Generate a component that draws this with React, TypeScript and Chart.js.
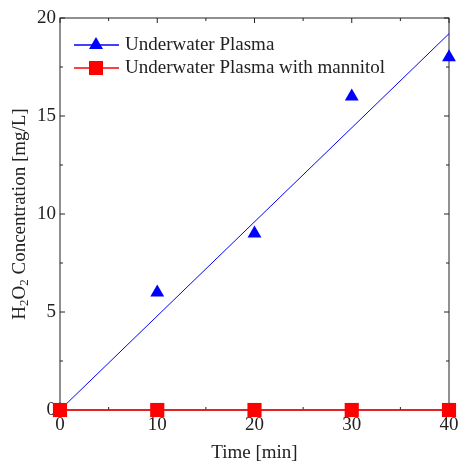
import React, { useEffect, useRef } from "react";
import { Chart, registerables } from "chart.js";
Chart.register(...registerables);

const times = [0, 10, 20, 30, 40];
const plasma = [0, 6, 9, 16, 18];
const mannitol = [0, 0, 0, 0, 0];
const fitX = [0, 40];
const fitY = [0, 19.2];
const xTicks = [0, 10, 20, 30, 40];
const yTicks = [0, 5, 10, 15, 20];
const xMinor = [5, 15, 25, 35];
const yMinor = [2.5, 7.5, 12.5, 17.5];
const legendLabels = ["Underwater Plasma", "Underwater Plasma with mannitol"];
const xTitle = "Time [min]";

const FONT = '"Liberation Serif", "Times New Roman", serif';
const TXT = "#222";
const FS = 19;

const framePlugin = {
  id: "frame",
  beforeDatasetsDraw(chart: any) {
    const { ctx, chartArea: a, scales } = chart;
    const xs = scales.x, ys = scales.y;
    ctx.save();
    ctx.strokeStyle = TXT;
    ctx.lineWidth = 1;
    ctx.strokeRect(a.left, a.top, a.right - a.left, a.bottom - a.top);
    ctx.beginPath();
    const tickX = (v: number, len: number) => {
      const px = xs.getPixelForValue(v);
      ctx.moveTo(px, a.bottom);
      ctx.lineTo(px, a.bottom - len);
      ctx.moveTo(px, a.top);
      ctx.lineTo(px, a.top + len);
    };
    const tickY = (v: number, len: number) => {
      const py = ys.getPixelForValue(v);
      ctx.moveTo(a.left, py);
      ctx.lineTo(a.left + len, py);
      ctx.moveTo(a.right, py);
      ctx.lineTo(a.right - len, py);
    };
    xTicks.forEach((v) => tickX(v, 5));
    xMinor.forEach((v) => tickX(v, 3));
    yTicks.forEach((v) => tickY(v, 5));
    yMinor.forEach((v) => tickY(v, 3));
    ctx.stroke();

    // tick labels
    ctx.fillStyle = TXT;
    ctx.font = `${FS}px ${FONT}`;
    ctx.textAlign = "center";
    ctx.textBaseline = "top";
    xTicks.forEach((v) => {
      ctx.fillText(String(v), xs.getPixelForValue(v), a.bottom + 6);
    });
    ctx.textAlign = "right";
    ctx.textBaseline = "middle";
    yTicks.forEach((v) => {
      ctx.fillText(String(v), a.left - 4, ys.getPixelForValue(v));
    });
    ctx.restore();
  },
  afterDatasetsDraw(chart: any) {
    const { ctx, chartArea: a } = chart;
    ctx.save();
    const items = [
      { color: "#0000ff", label: legendLabels[0], style: "tri", y: a.top + 27 },
      { color: "#ff0000", label: legendLabels[1], style: "rect", y: a.top + 50 },
    ];
    items.forEach((it) => {
      ctx.strokeStyle = it.color;
      ctx.lineWidth = 1.5;
      ctx.beginPath();
      ctx.moveTo(a.left + 14, it.y);
      ctx.lineTo(a.left + 59, it.y);
      ctx.stroke();
      ctx.fillStyle = it.color;
      const cx = a.left + 36;
      ctx.beginPath();
      if (it.style === "tri") {
        ctx.moveTo(cx, it.y - 8);
        ctx.lineTo(cx + 7, it.y + 4);
        ctx.lineTo(cx - 7, it.y + 4);
        ctx.closePath();
        ctx.fill();
      } else {
        ctx.fillRect(cx - 7, it.y - 7, 14, 14);
      }
      ctx.fillStyle = TXT;
      ctx.font = `${FS}px ${FONT}`;
      ctx.textAlign = "left";
      ctx.textBaseline = "middle";
      ctx.fillText(it.label, a.left + 65, it.y);
    });

    ctx.fillStyle = TXT;
    ctx.font = `${FS}px ${FONT}`;
    ctx.textAlign = "center";
    ctx.textBaseline = "middle";
    ctx.fillText(xTitle, (a.left + a.right) / 2, 453);

    ctx.save();
    ctx.translate(20, (a.top + a.bottom) / 2);
    ctx.rotate(-Math.PI / 2);
    const parts = [
      { t: "H", sub: false },
      { t: "2", sub: true },
      { t: "O", sub: false },
      { t: "2", sub: true },
      { t: " Concentration [mg/L]", sub: false },
    ];
    const big = `${FS}px ${FONT}`;
    const small = `13px ${FONT}`;
    let total = 0;
    parts.forEach((p) => {
      ctx.font = p.sub ? small : big;
      total += ctx.measureText(p.t).width;
    });
    let x = -total / 2;
    ctx.textAlign = "left";
    ctx.textBaseline = "middle";
    parts.forEach((p) => {
      ctx.font = p.sub ? small : big;
      ctx.fillText(p.t, x, p.sub ? 5 : 0);
      x += ctx.measureText(p.t).width;
    });
    ctx.restore();
    ctx.restore();
  },
};

export default function App() {
  const ref = useRef<HTMLCanvasElement>(null);
  useEffect(() => {
    const c = new Chart(ref.current!, {
      type: "scatter",
      data: {
        datasets: [
          {
            label: legendLabels[1],
            data: times.map((t, i) => ({ x: t, y: mannitol[i] })),
            showLine: true,
            borderColor: "#ff0000",
            backgroundColor: "#ff0000",
            borderWidth: 1.5,
            pointStyle: "rect",
            pointRadius: 10,
            pointBorderWidth: 0,
            clip: false,
          } as any,
          {
            label: "fit",
            data: fitX.map((t, i) => ({ x: t, y: fitY[i] })),
            showLine: true,
            borderColor: "#0000ff",
            borderWidth: 1,
            pointRadius: 0,
            clip: false,
          },
          {
            label: legendLabels[0],
            data: times.map((t, i) => ({ x: t, y: plasma[i] })),
            showLine: false,
            backgroundColor: "#0000ff",
            borderColor: "#0000ff",
            pointStyle: "triangle",
            pointRadius: 8,
            pointBorderWidth: 0,
            clip: false,
          } as any,
        ],
      },
      options: {
        animation: false,
        responsive: false,
        maintainAspectRatio: false,
        layout: { padding: { left: 0, top: 18, right: 7, bottom: 0 } },
        plugins: { legend: { display: false }, tooltip: { enabled: false } },
        scales: {
          x: {
            type: "linear",
            min: 0,
            max: 40,
            grid: { display: false, drawTicks: false, tickLength: 0 },
            border: { display: false },
            ticks: { display: false },
            afterFit: (s: any) => {
              s.height = 56;
            },
          },
          y: {
            type: "linear",
            min: 0,
            max: 20,
            grid: { display: false, drawTicks: false, tickLength: 0 },
            border: { display: false },
            ticks: { display: false },
            afterFit: (s: any) => {
              s.width = 60;
            },
          },
        },
      },
      plugins: [framePlugin],
    });
    return () => c.destroy();
  }, []);
  return (
    <div style={{ position: "absolute", left: 0, top: 0, width: 459, height: 466 }}>
      <canvas ref={ref} width={459} height={466} style={{ width: 459, height: 466 }} />
    </div>
  );
}
